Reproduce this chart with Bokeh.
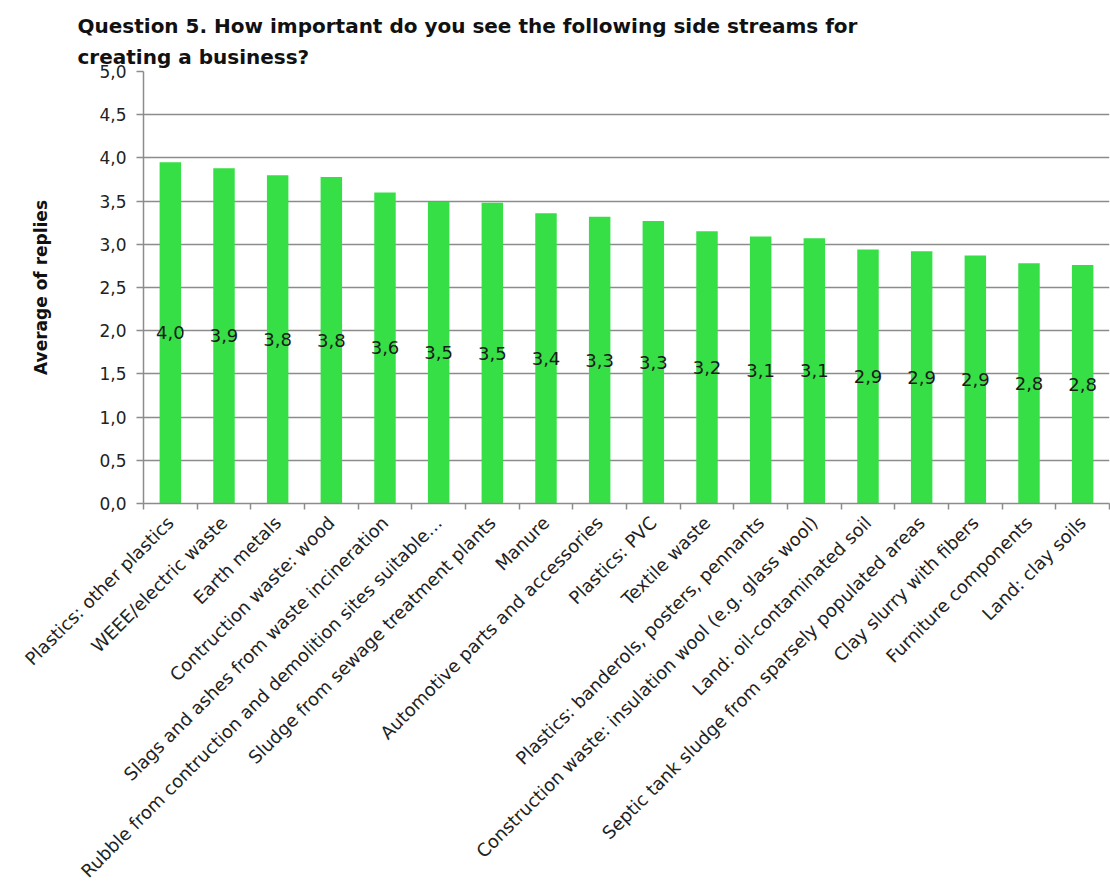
import math
from bokeh.plotting import figure
from bokeh.models import Range1d, FixedTicker, ColumnDataSource
from bokeh.core.properties import value
from bokeh.embed import file_html
from bokeh.resources import INLINE

categories = [
    "Plastics: other plastics",
    "WEEE/electric waste",
    "Earth metals",
    "Contruction waste: wood",
    "Slags and ashes from waste incineration",
    "Rubble from contruction and demolition sites suitable\u2026",
    "Sludge from sewage treatment plants",
    "Manure",
    "Automotive parts and accessories",
    "Plastics: PVC",
    "Textile waste",
    "Plastics: banderols, posters, pennants",
    "Construction waste: insulation wool (e.g. glass wool)",
    "Land: oil-contaminated soil",
    "Septic tank sludge from sparsely populated areas",
    "Clay slurry with fibers",
    "Furniture components",
    "Land: clay soils",
]
values = [3.95, 3.88, 3.80, 3.78, 3.60, 3.49, 3.48, 3.36, 3.32, 3.27,
          3.15, 3.09, 3.07, 2.94, 2.92, 2.87, 2.78, 2.76]
value_labels = ["4,0", "3,9", "3,8", "3,8", "3,6", "3,5", "3,5", "3,4", "3,3",
                "3,3", "3,2", "3,1", "3,1", "2,9", "2,9", "2,9", "2,8", "2,8"]
y_ticks = [0.0, 0.5, 1.0, 1.5, 2.0, 2.5, 3.0, 3.5, 4.0, 4.5, 5.0]
y_tick_labels = ["0,0", "0,5", "1,0", "1,5", "2,0", "2,5", "3,0", "3,5", "4,0", "4,5", "5,0"]
title_text = ("Question 5. How important do you see the following  side streams for\n"
              "creating a business?")
y_title = "Average of replies"

n = len(categories)
x_centers = [i + 0.5 for i in range(n)]
x_bounds = [float(i) for i in range(n + 1)]

src = ColumnDataSource(dict(
    x=x_centers, top=values, mid=[v / 2 for v in values], lab=value_labels))

FONT = "DejaVu Sans"
GRID = "#8c8c8c"

p = figure(width=1110, height=891, output_backend="svg", toolbar_location=None,
           x_range=Range1d(0, n), y_range=Range1d(0, 5),
           min_border_left=143, min_border_right=1, min_border_top=71,
           min_border_bottom=388, title=title_text)
p.outline_line_color = None
p.background_fill_color = "white"
p.border_fill_color = "white"

p.title.text_font = FONT
p.title.text_font_size = "20px"
p.title.text_font_style = "bold"
p.title.text_color = "#111111"
p.title.align = "left"
p.title.offset = -66
p.title.standoff = 5
p.title.text_line_height = 1.3

p.vbar(x="x", top="top", width=0.4, bottom=0, source=src,
       fill_color="#36df46", line_color=None)
p.text(x="x", y="mid", text="lab", source=src, text_align="center",
       text_baseline="middle", text_font=value(FONT), text_font_size="18px",
       text_color="#1a1a1a")

p.xgrid.visible = False
p.ygrid.grid_line_color = GRID
p.ygrid.grid_line_width = 1.5

ya = p.yaxis[0]
ya.ticker = FixedTicker(ticks=y_ticks)
ya.major_label_overrides = dict(zip(y_ticks, y_tick_labels))
ya.major_tick_out = 7
ya.major_tick_in = 0
ya.minor_tick_out = 0
ya.minor_tick_in = 0
ya.axis_line_color = GRID
ya.axis_line_width = 1.5
ya.major_tick_line_color = GRID
ya.major_tick_line_width = 1.5
ya.major_label_text_font = FONT
ya.major_label_text_font_size = "17px"
ya.major_label_text_color = "#222222"
ya.major_label_standoff = 10
ya.axis_label = y_title
ya.axis_label_text_font = FONT
ya.axis_label_text_font_size = "17px"
ya.axis_label_text_font_style = "bold"
ya.axis_label_text_color = "#111111"
ya.axis_label_standoff = 45

xa = p.xaxis[0]
xa.ticker = FixedTicker(ticks=x_centers, minor_ticks=x_bounds)
xa.major_label_overrides = dict(zip(x_centers, categories))
xa.major_label_orientation = math.pi / 4
xa.major_tick_out = 0
xa.major_tick_in = 0
xa.minor_tick_out = 6
xa.minor_tick_in = 0
xa.minor_tick_line_color = GRID
xa.minor_tick_line_width = 1.5
xa.axis_line_color = GRID
xa.axis_line_width = 1.5
xa.major_label_text_font = FONT
xa.major_label_text_font_size = "18px"
xa.major_label_text_color = "#222222"
xa.major_label_standoff = 10

open("out.html", "w").write(file_html(p, INLINE))
